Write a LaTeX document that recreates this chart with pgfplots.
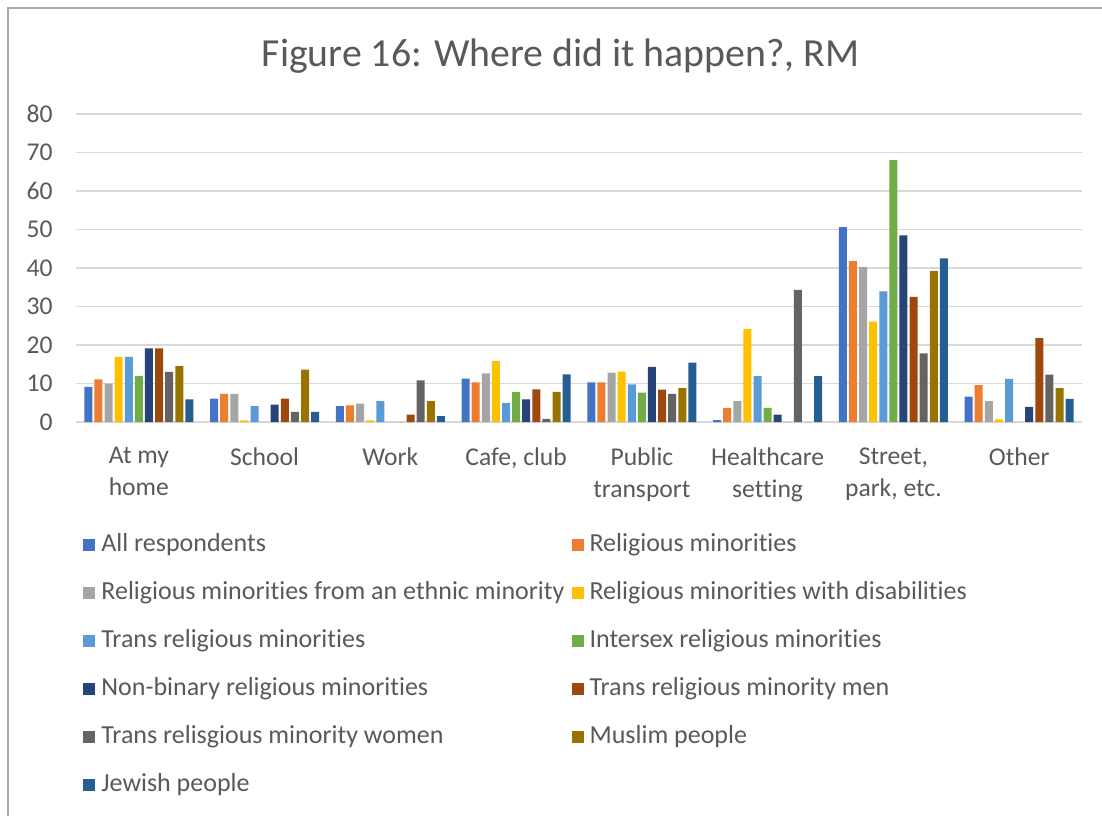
\documentclass[border=0pt]{standalone}
\usepackage{fontspec}
\setmainfont{Carlito}[Ligatures=NoCommon]
\usepackage{pgfplots}
\pgfplotsset{compat=1.18}
\usepackage{pgfplotstable}

\definecolor{c1}{HTML}{4472C4}
\definecolor{c2}{HTML}{ED7D31}
\definecolor{c3}{HTML}{A5A5A5}
\definecolor{c4}{HTML}{FFC000}
\definecolor{c5}{HTML}{5B9BD5}
\definecolor{c6}{HTML}{70AD47}
\definecolor{c7}{HTML}{264478}
\definecolor{c8}{HTML}{9E480E}
\definecolor{c9}{HTML}{636363}
\definecolor{c10}{HTML}{997300}
\definecolor{c11}{HTML}{255E91}
\definecolor{gridgray}{HTML}{D9D9D9}
\definecolor{labelgray}{HTML}{595959}
\definecolor{framegray}{HTML}{AAAAAA}

\pgfplotstableread{
x  s1   s2   s3   s4   s5   s6   s7   s8   s9   s10  s11
0  9.1  11.1 10.0 16.9 16.9 12.0 19.1 19.1 13.0 14.5 5.9
1  6.1  7.3  7.3  0.4  4.1  0    4.5  6.1  2.6  13.6 2.6
2  4.1  4.3  4.8  0.4  5.4  0    0    1.9  10.8 5.4  1.5
3  11.3 10.3 12.6 15.9 5.0  7.8  5.9  8.5  0.8  7.8  12.4
4  10.3 10.3 12.8 13.1 9.8  7.6  14.3 8.4  7.3  8.8  15.4
5  0.5  3.7  5.4  24.1 11.9 3.7  1.9  0    34.3 0    11.9
6  50.6 41.8 40.3 26.1 33.9 68.0 48.5 32.5 17.8 39.2 42.5
7  6.6  9.6  5.4  0.7  11.2 0    3.9  21.8 12.3 8.8  6.0
}\datatable

\begin{document}
\begin{tikzpicture}
\path[use as bounding box] (0,0) rectangle (551pt,408pt);
\begin{axis}[
  at={(38pt,197pt)}, anchor=south west,
  scale only axis, width=503pt, height=154pt,
  ybar=1.05pt, bar width=4pt,
  xmin=-0.5, xmax=7.5, ymin=0, ymax=80,
  xtick={0,1,2,3,4,5,6,7},
  xticklabels={{At my\\home},{School\\\mbox{}},{Work\\\mbox{}},{Cafe, club\\\mbox{}},{Public\\transport},{Healthcare\\setting},{Street,\\park, etc.},{Other\\\mbox{}}},
  ytick={0,10,20,30,40,50,60,70,80},
  major tick length=0pt,
  ymajorgrids, grid style={draw=gridgray, line width=0.75pt},
  axis x line*=bottom, axis y line*=left,
  axis line style={draw=none, -},
  tick label style={font=\fontsize{12.8}{16}\selectfont, text=labelgray},
  /pgf/number format/assume math mode=true,
  xticklabel style={align=center, inner sep=0pt, anchor=north, yshift=-12.5pt,
    execute at begin node={\rule{0pt}{10pt}}},
  yticklabel style={inner sep=0pt, anchor=east, xshift=-11.5pt},
  legend columns=2,
  legend cell align=left,
  legend style={at={(0.00696,-0.3636)}, anchor=north west, draw=none, fill=none,
    inner sep=0pt, row sep=12pt, font=\fontsize{13}{15}\selectfont, text=labelgray,
    nodes={inner sep=0pt, text height=8.5pt, text depth=3.5pt},
    /tikz/every even column/.append style={column sep=3.5pt}},
  legend image code/.code={\fill[#1] (0pt,-2.5pt) rectangle (6pt,3.5pt); \path (9pt,0pt);},
]
\addplot[fill=c1, draw=none] table[x=x,y=s1] {\datatable};
\addplot[fill=c2, draw=none] table[x=x,y=s2] {\datatable};
\addplot[fill=c3, draw=none] table[x=x,y=s3] {\datatable};
\addplot[fill=c4, draw=none] table[x=x,y=s4] {\datatable};
\addplot[fill=c5, draw=none] table[x=x,y=s5] {\datatable};
\addplot[fill=c6, draw=none] table[x=x,y=s6] {\datatable};
\addplot[fill=c7, draw=none] table[x=x,y=s7] {\datatable};
\addplot[fill=c8, draw=none] table[x=x,y=s8] {\datatable};
\addplot[fill=c9, draw=none] table[x=x,y=s9] {\datatable};
\addplot[fill=c10, draw=none] table[x=x,y=s10] {\datatable};
\addplot[fill=c11, draw=none] table[x=x,y=s11] {\datatable};
\legend{All respondents, Religious minorities, Religious minorities from an ethnic minority, Religious minorities with disabilities, Trans religious minorities, Intersex religious minorities, Non-binary religious minorities, Trans religious minority men, Trans relisgious minority women, Muslim people, Jewish people}
\end{axis}
\node[anchor=base, font=\fontsize{19.9}{23}\selectfont, text=labelgray] at (280.25pt,374.5pt) {Figure 16: Where did it happen?, RM};
\draw[framegray, line width=1.2pt] (4pt,0pt) -- (4pt,404pt) -- (551pt,404pt);
\end{tikzpicture}
\end{document}
